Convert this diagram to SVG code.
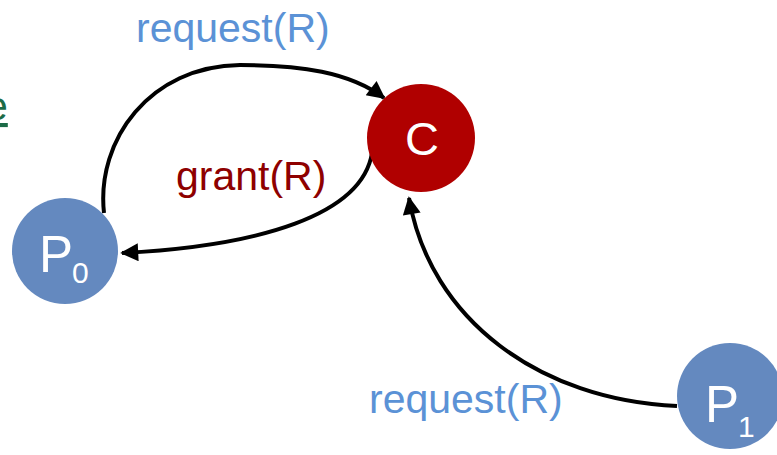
<svg xmlns="http://www.w3.org/2000/svg" width="777" height="455" viewBox="0 0 777 455">
  <style>
    .lbl { font-family: "Liberation Sans", Arial, sans-serif; font-size: 41px; }
    .req { fill: #5b92d6; }
    .grant { fill: #8e0000; }
    .node-p { fill: #6489bf; }
    .node-c { fill: #b00000; }
    .ntext { font-family: "Liberation Sans", Arial, sans-serif; fill: #ffffff; }
    .edge { fill: none; stroke: #000000; stroke-width: 4; }
  </style>
  <defs>
    <marker id="arrow" viewBox="0 0 10 10" refX="9" refY="5" markerWidth="5.5" markerHeight="4.5" markerUnits="strokeWidth" orient="auto">
      <path d="M0,0 L10,5 L0,10 z" fill="#000000"/>
    </marker>
  </defs>

  <!-- partially visible underlined word at the left edge -->
  <text x="-15" y="120" class="lbl" fill="#1c6b47" text-decoration="underline">e</text>

  <g id="connectors">
    <path class="edge" marker-end="url(#arrow)" d="M104,213 C96,140 150,66 240,65 C300,65 350,72 384,98"/>
    <path class="edge" marker-end="url(#arrow)" d="M372,153 C362,215 260,246 122,253"/>
    <path class="edge" marker-end="url(#arrow)" d="M677,406 C540,400 430,320 409,198"/>
  </g>

  <g id="label-request-top">
    <text x="136" y="42" class="lbl req">request(R)</text>
  </g>
  <g id="label-grant">
    <text x="176" y="190" class="lbl grant">grant(R)</text>
  </g>
  <g id="label-request-bottom">
    <text x="369" y="413" class="lbl req">request(R)</text>
  </g>

  <g id="node-C">
    <circle cx="421" cy="138" r="54" class="node-c"/>
    <text x="422" y="155" class="ntext" font-size="47" text-anchor="middle">C</text>
  </g>
  <g id="node-P0">
    <circle cx="65" cy="251" r="53" class="node-p"/>
    <text x="39" y="272" class="ntext" font-size="51">P</text>
    <text x="72" y="283" class="ntext" font-size="30">0</text>
  </g>
  <g id="node-P1">
    <circle cx="730" cy="396" r="53" class="node-p"/>
    <text x="705" y="422" class="ntext" font-size="51">P</text>
    <text x="738" y="437" class="ntext" font-size="30">1</text>
  </g>
</svg>
